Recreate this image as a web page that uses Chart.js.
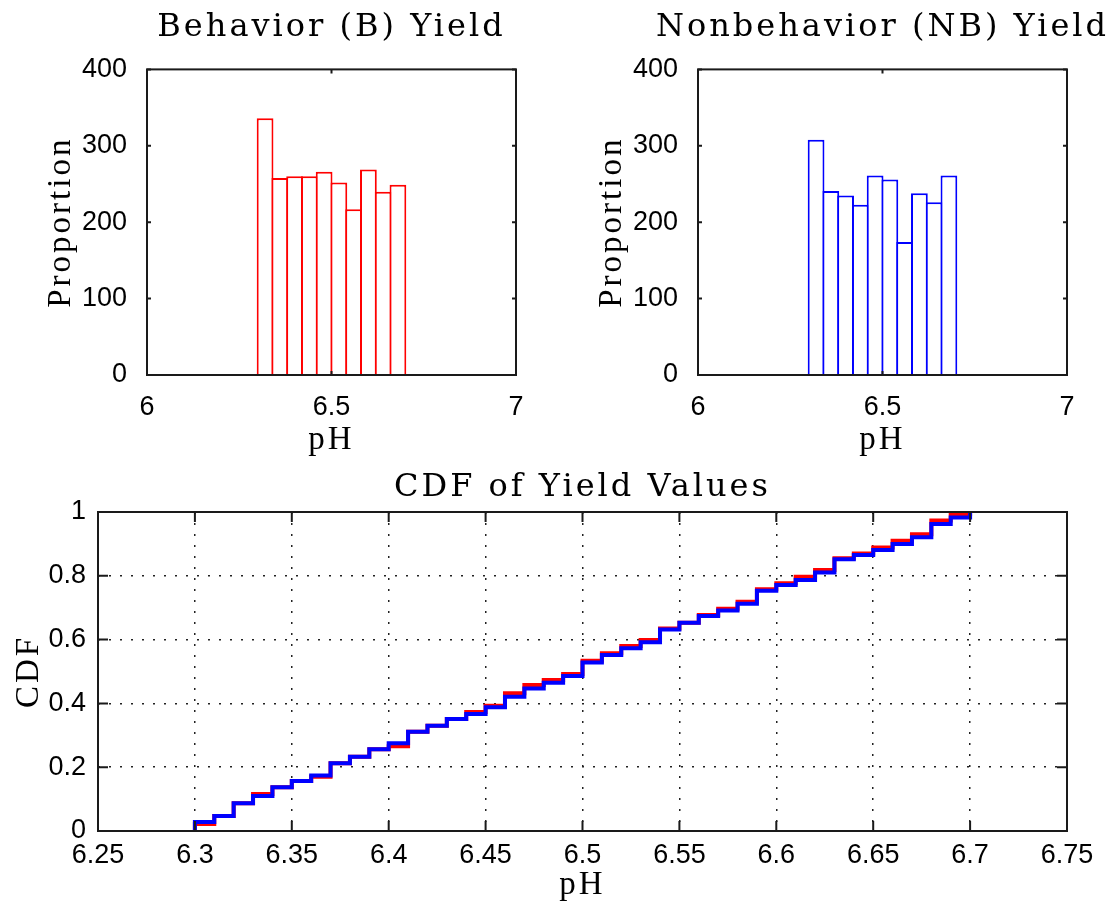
<!DOCTYPE html>
<html>
<head>
<meta charset="utf-8">
<title>pH yield histograms and CDF</title>
<script src="https://cdn.jsdelivr.net/npm/chart.js@4.4.1/dist/chart.umd.min.js"></script>
<style>
  html, body { margin: 0; padding: 0; background: #fff; }
  #wrap { position: relative; width: 1114px; height: 916px; overflow: hidden; }
  canvas { position: absolute; }
</style>
</head>
<body>
<div id="wrap">
  <canvas id="histB" width="663" height="462" style="left:0;top:0"></canvas>
  <canvas id="histNB" width="663" height="462" style="left:551px;top:0"></canvas>
  <canvas id="cdf" width="1114" height="454" style="left:0;top:462px"></canvas>
</div>
<script>
// histogram bins: centres of the 0.04 wide pH bins
const binCenters = [6.32, 6.36, 6.40, 6.44, 6.48, 6.52, 6.56, 6.60, 6.64, 6.68];
const behaviorHist = [336, 258, 260, 260, 266, 252, 217, 269, 240, 249];
const nonbehaviorHist = [308, 241, 235, 223, 261, 256, 174, 238, 226, 261];

const histXTicks = [6, 6.5, 7];
const histXLabels = ['6', '6.5', '7'];
const histYTicks = [0, 100, 200, 300, 400];
const histYLabels = ['0', '100', '200', '300', '400'];

// cumulative distribution, one step every 0.01 pH
const cdfX = [6.30, 6.30, 6.31, 6.32, 6.33, 6.34, 6.35, 6.36, 6.37, 6.38, 6.39,
  6.40, 6.41, 6.42, 6.43, 6.44, 6.45, 6.46, 6.47, 6.48, 6.49,
  6.50, 6.51, 6.52, 6.53, 6.54, 6.55, 6.56, 6.57, 6.58, 6.59,
  6.60, 6.61, 6.62, 6.63, 6.64, 6.65, 6.66, 6.67, 6.68, 6.69, 6.70];
const cdfBehavior = [0, 0.022, 0.047, 0.087, 0.116, 0.137, 0.157, 0.170, 0.212, 0.233, 0.256,
  0.266, 0.311, 0.330, 0.351, 0.373, 0.393, 0.432, 0.458, 0.473, 0.492,
  0.534, 0.557, 0.580, 0.599, 0.635, 0.653, 0.677, 0.697, 0.719, 0.758,
  0.777, 0.797, 0.818, 0.855, 0.870, 0.889, 0.910, 0.930, 0.973, 0.994, 1];
const cdfNonbehavior = [0, 0.028, 0.047, 0.087, 0.110, 0.137, 0.157, 0.174, 0.212, 0.233, 0.256,
  0.275, 0.311, 0.330, 0.351, 0.367, 0.388, 0.421, 0.447, 0.465, 0.486,
  0.528, 0.552, 0.573, 0.592, 0.632, 0.653, 0.674, 0.691, 0.712, 0.753,
  0.771, 0.787, 0.810, 0.852, 0.865, 0.881, 0.900, 0.921, 0.962, 0.983, 1];

const cdfXTicks = [6.25, 6.3, 6.35, 6.4, 6.45, 6.5, 6.55, 6.6, 6.65, 6.7, 6.75];
const cdfXLabels = ['6.25', '6.3', '6.35', '6.4', '6.45', '6.5', '6.55', '6.6', '6.65', '6.7', '6.75'];
const cdfYTicks = [0, 0.2, 0.4, 0.6, 0.8, 1];
const cdfYLabels = ['0', '0.2', '0.4', '0.6', '0.8', '1'];

Chart.defaults.color = '#000';
Chart.defaults.font.family = '"Liberation Sans", Arial, sans-serif';
Chart.defaults.font.size = 27;

const axisFont = { family: '"Liberation Serif", serif', size: 33, weight: 'normal' };
const titleFont = { family: '"DejaVu Serif", serif', size: 32, weight: 'normal' };

// titles get wide bitmap-like spacing, tick labels (drawn at z 1) none
const spacing = {
  id: 'spacing',
  beforeDraw(chart) { chart.ctx.letterSpacing = '3px'; },
  afterDatasetsDraw(chart) { chart.ctx.letterSpacing = '0px'; }
};

// closed axes box with inward tick marks on all four sides
const matlabBox = {
  id: 'matlabBox',
  afterDraw(chart, args, opts) {
    const { ctx, chartArea: a, scales } = chart;
    const len = opts.tickLength || 4;
    ctx.save();
    ctx.setLineDash([]);
    ctx.strokeStyle = '#1a1a1a';
    ctx.lineWidth = 2;
    ctx.beginPath();
    scales.x.ticks.forEach(t => {
      const px = scales.x.getPixelForValue(t.value);
      ctx.moveTo(px, a.bottom); ctx.lineTo(px, a.bottom - len);
      ctx.moveTo(px, a.top); ctx.lineTo(px, a.top + len);
    });
    scales.y.ticks.forEach(t => {
      const py = scales.y.getPixelForValue(t.value);
      ctx.moveTo(a.left, py); ctx.lineTo(a.left + len, py);
      ctx.moveTo(a.right, py); ctx.lineTo(a.right - len, py);
    });
    ctx.stroke();
    ctx.strokeRect(a.left, a.top, a.right - a.left, a.bottom - a.top);
    ctx.restore();
  }
};

function histogram(canvasId, title, values, color) {
  return new Chart(document.getElementById(canvasId), {
    type: 'bar',
    data: {
      datasets: [{
        data: binCenters.map((x, i) => ({ x: x, y: values[i] })),
        backgroundColor: '#ffffff',
        borderColor: color,
        borderWidth: { top: 2, left: 2, right: 2, bottom: 0 },
        borderSkipped: false,
        // bars overlap by one border width so shared edges form a single line
        barPercentage: 1.1355,
        categoryPercentage: 1,
        inflateAmount: 0
      }]
    },
    options: {
      responsive: false,
      animation: false,
      events: [],
      layout: { padding: 0 },
      plugins: {
        legend: { display: false },
        tooltip: { enabled: false },
        title: {
          display: true, text: title, color: '#000', font: titleFont,
          padding: { top: 8, bottom: 23 }
        },
        matlabBox: { tickLength: 4 }
      },
      scales: {
        x: {
          type: 'linear', min: 6, max: 7, offset: false,
          grid: { display: false },
          border: { display: false },
          afterBuildTicks: s => { s.ticks = histXTicks.map(v => ({ value: v })); },
          ticks: { z: 1, padding: 8, maxRotation: 0, autoSkip: false, callback: (v, i) => histXLabels[i] },
          title: { display: true, text: 'pH', font: axisFont, padding: { top: 0, bottom: 2 } },
          afterFit: s => { s.height = 87; }
        },
        y: {
          min: 0, max: 400,
          grid: { display: false },
          border: { display: false },
          afterBuildTicks: s => { s.ticks = histYTicks.map(v => ({ value: v })); },
          ticks: { z: 1, padding: 12, callback: (v, i) => histYLabels[i] },
          title: { display: true, text: 'Proportion', font: axisFont, padding: { top: 42, bottom: 0 } },
          afterFit: s => { s.width = 147; }
        },
        // empty right-hand strip, same width as the left axis, keeps the title centred over the axes
        yRight: {
          type: 'linear', position: 'right', min: 0, max: 400,
          grid: { display: false },
          border: { display: false },
          ticks: { display: false },
          afterFit: s => { s.width = 147; }
        }
      }
    },
    plugins: [spacing, matlabBox]
  });
}

histogram('histB', 'Behavior (B) Yield', behaviorHist, '#ff0000');
histogram('histNB', 'Nonbehavior (NB) Yield', nonbehaviorHist, '#0000ff');

const dotted = { color: '#222', lineWidth: 1.5, drawTicks: false };

new Chart(document.getElementById('cdf'), {
  type: 'line',
  data: {
    datasets: [
      {
        label: 'NB',
        data: cdfX.map((x, i) => ({ x: x, y: cdfNonbehavior[i] })),
        borderColor: '#0000ff',
        borderWidth: 4,
        stepped: true,
        pointRadius: 0,
        fill: false
      },
      {
        label: 'B',
        data: cdfX.map((x, i) => ({ x: x, y: cdfBehavior[i] })),
        borderColor: '#ff0000',
        borderWidth: 4,
        stepped: true,
        pointRadius: 0,
        fill: false
      }
    ]
  },
  options: {
    responsive: false,
    animation: false,
    events: [],
    layout: { padding: { left: 0, right: 47, top: 0, bottom: 0 } },
    plugins: {
      legend: { display: false },
      tooltip: { enabled: false },
      title: {
        display: true, fullSize: false, text: 'CDF of Yield Values', color: '#000', font: titleFont,
        padding: { top: 6, bottom: 5.6 }
      },
      matlabBox: { tickLength: 10 }
    },
    scales: {
      x: {
        type: 'linear', min: 6.25, max: 6.75, offset: false,
        grid: dotted,
        border: { display: false, dash: [2, 9] },
        afterBuildTicks: s => { s.ticks = cdfXTicks.map(v => ({ value: v })); },
        ticks: { z: 1, padding: 8, maxRotation: 0, autoSkip: false, callback: (v, i) => cdfXLabels[i] },
        title: { display: true, text: 'pH', font: axisFont, padding: { top: 0, bottom: 11 } },
        afterFit: s => { s.height = 85; }
      },
      y: {
        min: 0, max: 1,
        grid: dotted,
        border: { display: false, dash: [2, 9] },
        afterBuildTicks: s => { s.ticks = cdfYTicks.map(v => ({ value: v })); },
        ticks: { z: 1, padding: 12, callback: (v, i) => cdfYLabels[i] },
        title: { display: true, text: 'CDF', font: axisFont, padding: { top: 10, bottom: 0 } },
        afterFit: s => { s.width = 98; }
      }
    }
  },
  plugins: [spacing, matlabBox]
});
</script>
</body>
</html>
